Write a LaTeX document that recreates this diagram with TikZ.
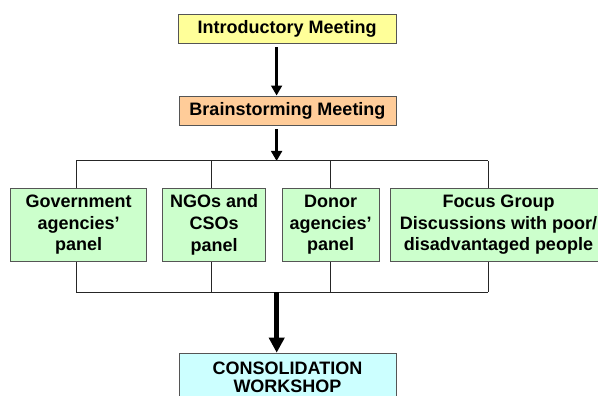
\documentclass[tikz,border=0pt]{standalone}
\usepackage{fontspec}
\setmainfont{Liberation Sans}
\usetikzlibrary{arrows.meta}
\definecolor{introfill}{HTML}{FFFF99}
\definecolor{brainfill}{HTML}{FFCC99}
\definecolor{panelfill}{HTML}{CCFFCC}
\definecolor{consfill}{HTML}{CCFFFF}
\definecolor{boxline}{HTML}{555555}
\tikzset{
  box/.style={draw=boxline, line width=1pt, inner sep=0pt, align=center,
    font=\fontsize{18}{21.7}\selectfont\bfseries, text=black},
  thinarrow/.style={line width=3.3pt, -{Triangle[width=10.7pt,length=10pt]}},
  thickarrow/.style={line width=5.3pt, -{Triangle[width=15pt,length=15pt]}},
  bus/.style={line width=1pt, draw=black!85}
}
\begin{document}
\begin{tikzpicture}[x=1pt,y=-1pt]
\useasboundingbox (0,0) rectangle (598,396);
\fill[white] (0,0) rectangle (598,396);
\clip (0,0) rectangle (598,396);

\node[box, fill=introfill, minimum width=217.7pt, minimum height=29pt] (intro) at (287.2,28.8) {Introductory Meeting};
\node[box, fill=brainfill, minimum width=217pt, minimum height=29.3pt] (brain) at (287.5,110.7) {Brainstorming Meeting};

\node[box, fill=panelfill, minimum width=136pt, minimum height=72.7pt] (p1) at (78.7,224.7) {Government\\agencies'\\panel};
\node[box, fill=panelfill, minimum width=103pt, minimum height=72.7pt] (p2) at (214.2,224.7) {NGOs and\\CSOs\\panel};
\node[box, fill=panelfill, minimum width=97.3pt, minimum height=72.7pt] (p3) at (330.7,224.7) {Donor\\agencies'\\panel};
\node[box, fill=panelfill, minimum width=217pt, minimum height=72.7pt] (p4) at (498.5,224.7) {Focus Group\\Discussions with poor/\\disadvantaged people};

\node[box, fill=consfill, minimum width=217pt, anchor=north, inner ysep=8.8pt,
  font=\fontsize{18}{18.3}\selectfont\bfseries] (cons) at (287.5,352.7) {CONSOLIDATION\\WORKSHOP\\[20pt]\mbox{}};

\coordinate (a) at (276.6,0);
\coordinate (tm) at (276.6,161);
\coordinate (t1) at (76,161);
\coordinate (t2) at (211.7,161);
\coordinate (t3) at (330.7,161);
\coordinate (t4) at (488.3,161);
\coordinate (bm) at (276.7,292);
\coordinate (b1) at (76,292);
\coordinate (b2) at (211.7,292);
\coordinate (b3) at (330.7,292);
\coordinate (b4) at (488.3,292);

\draw[thinarrow, shorten <=3.5pt] (intro.south -| a) -- (brain.north -| a);
\draw[thinarrow, shorten <=3pt] (brain.south -| a) -- (tm);

\draw[bus] (t1) -- (t4);
\draw[bus] (t1) -- (t1 |- p1.north);
\draw[bus] (t2) -- (t2 |- p2.north);
\draw[bus] (t3) -- (t3 |- p3.north);
\draw[bus] (t4) -- (t4 |- p4.north);

\draw[bus] (b1) -- (b4);
\draw[bus] (b1) -- (b1 |- p1.south);
\draw[bus] (b2) -- (b2 |- p2.south);
\draw[bus] (b3) -- (b3 |- p3.south);
\draw[bus] (b4) -- (b4 |- p4.south);

\draw[thickarrow] (bm) -- (cons.north -| bm);
\end{tikzpicture}
\end{document}
